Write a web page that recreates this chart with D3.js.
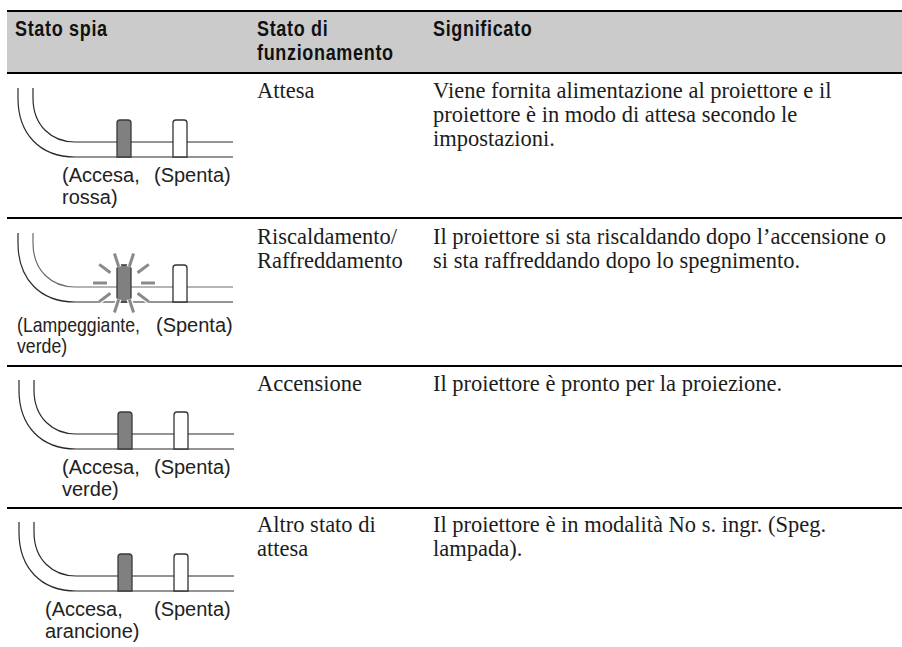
<!DOCTYPE html>
<html>
<head>
<meta charset="utf-8">
<script src="https://cdn.jsdelivr.net/npm/d3@7"></script>
<style>
  html, body { margin: 0; padding: 0; background: #fff; }
  svg { display: block; }
  .head { font-family: "Liberation Sans", sans-serif; font-weight: bold; font-size: 22px; letter-spacing: 0.8px; fill: #111; }
  .cell { font-family: "Liberation Serif", serif; font-size: 22.5px; fill: #1c1c1c; }
  .lab { font-family: "Liberation Sans", sans-serif; font-size: 20px; fill: #222; }
</style>
</head>
<body>
<div id="chart"></div>
<script>
// table content
var headers = [["Stato spia"], ["Stato di", "funzionamento"], ["Significato"]];
var stati = [
  ["Attesa"],
  ["Riscaldamento/", "Raffreddamento"],
  ["Accensione"],
  ["Altro stato di", "attesa"]
];
var significati = [
  ["Viene fornita alimentazione al proiettore e il", "proiettore è in modo di attesa secondo le", "impostazioni."],
  ["Il proiettore si sta riscaldando dopo l’accensione o", "si sta raffreddando dopo lo spegnimento."],
  ["Il proiettore è pronto per la proiezione."],
  ["Il proiettore è in modalità No s. ingr. (Speg.", "lampada)."]
];
var spiaLabels = [
  ["(Accesa,", "rossa)"],
  ["(Lampeggiante,", "verde)"],
  ["(Accesa,", "verde)"],
  ["(Accesa,", "arancione)"]
];
var blinking = [false, true, false, false];

var svgWidth = 902;
var svgHeight = 647;

var svg = d3.select("#chart").append("svg")
  .attr("width", svgWidth)
  .attr("height", svgHeight);

// layout
var colX = d3.scaleOrdinal().domain([0, 1, 2]).range([15, 257, 433]);
var rowIdx = d3.range(stati.length);
var rowY = d3.scaleOrdinal().domain(rowIdx).range([98, 244, 391, 532]);    // first baseline
var ruleY = d3.scaleOrdinal().domain(rowIdx).range([218, 366, 508]);       // rule under the row
var artY = d3.scaleOrdinal().domain(rowIdx).range([88, 233, 380, 522]);    // top of drawing
var artX = d3.scaleOrdinal().domain(rowIdx).range([0, 0, 1, 1]);
var labX = d3.scaleOrdinal().domain(rowIdx).range([62, 17, 62, 45]);
var labSqueeze = d3.scaleOrdinal().domain(rowIdx).range([1, 0.885, 1, 1]); // the long label is narrower
var spentaX = d3.scaleOrdinal().domain(rowIdx).range([154, 156, 154, 154]);
var labY = d3.scaleOrdinal().domain(rowIdx).range([182, 332, 474, 616]);
var lineH = 24;

// header band
svg.append("rect")
  .attr("x", 7).attr("y", 11)
  .attr("width", svgWidth - 7).attr("height", 62)
  .attr("fill", "#cbcbcb");

svg.selectAll(".rule")
  .data([11, 73].concat(rowIdx.slice(0, 3).map(d => ruleY(d))))
  .enter().append("line")
  .attr("class", "rule")
  .attr("x1", 7).attr("x2", svgWidth)
  .attr("y1", d => d).attr("y2", d => d)
  .attr("stroke", "#000")
  .attr("stroke-width", 2);

function addLines(sel, cls, x, y, lines, h) {
  sel.append("g").selectAll("text")
    .data(lines)
    .enter().append("text")
    .attr("class", cls)
    .attr("x", x)
    .attr("y", (d, i) => y + i * h)
    .text(d => d);
}

// header font is a condensed bold, squeeze the sans to get it
headers.forEach(function(h, i) {
  svg.append("g")
    .attr("transform", `translate(${colX(i)}, 36) scale(0.82, 1)`)
    .call(addLines, "head", 0, 0, h, 24.5);
});

function drawLed(g, cx, fill, dark) {
  var p = d3.path();
  p.moveTo(cx - 7, 69);
  p.lineTo(cx - 7, 35);
  p.quadraticCurveTo(cx - 7, 32, cx - 4, 32);
  p.lineTo(cx + 4, 32);
  p.quadraticCurveTo(cx + 7, 32, cx + 7, 35);
  p.lineTo(cx + 7, 69);
  p.closePath();
  g.append("path")
    .attr("d", p.toString())
    .attr("fill", fill)
    .attr("stroke", dark)
    .attr("stroke-width", 1.3);
}

rowIdx.forEach(function(r) {
  addLines(svg, "cell", colX(1), rowY(r), stati[r], lineH);
  addLines(svg, "cell", colX(2), rowY(r), significati[r], lineH);

  var g = svg.append("g")
    .attr("transform", `translate(${artX(r)}, ${artY(r)})`);

  var upper = d3.path();
  upper.moveTo(33, 0);
  upper.lineTo(33, 10);
  upper.bezierCurveTo(33, 38, 52, 54, 75, 54);
  upper.lineTo(233, 54);
  var lower = d3.path();
  lower.moveTo(18, 0);
  lower.lineTo(18, 10);
  lower.bezierCurveTo(18, 46, 40, 69, 75, 69);
  lower.lineTo(233, 69);

  g.append("path").attr("d", upper.toString())
    .attr("fill", "none").attr("stroke", blinking[r] ? "#6a6a6a" : "#2a2a2a").attr("stroke-width", 1.2);
  g.append("path").attr("d", lower.toString())
    .attr("fill", "none").attr("stroke", "#2a2a2a").attr("stroke-width", 1.2);

  drawLed(g, 124, "#808080", "#3a3a3a");
  drawLed(g, 180, "#fff", "#333");

  if (blinking[r]) {
    // rays round the blinking led
    var rayAngles = [18, 53, 90, 127, 162, 198, 233, 270, 307, 342];
    var rays = g.append("g").attr("transform", "translate(124, 50)");
    rayAngles.forEach(function(a) {
      var t = a * Math.PI / 180;
      var ray = d3.line()([d3.pointRadial(t, 17), d3.pointRadial(t, 31)]);
      rays.append("path").attr("d", ray).attr("stroke", "#fff").attr("stroke-width", 5.5);
      rays.append("path").attr("d", ray).attr("stroke", "#8a8a8a").attr("stroke-width", 3);
    });
  }

  svg.append("g")
    .attr("transform", `translate(${labX(r)}, 0) scale(${labSqueeze(r)}, 1)`)
    .call(addLines, "lab", 0, labY(r), spiaLabels[r], 21.5);
  addLines(svg, "lab", spentaX(r), labY(r), ["(Spenta)"], 21.5);
});
</script>
</body>
</html>
